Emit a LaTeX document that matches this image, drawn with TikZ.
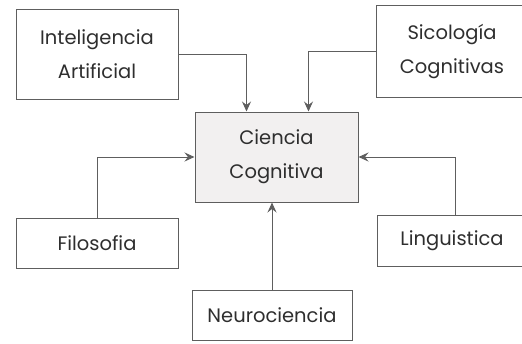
\documentclass[tikz,border=0pt]{standalone}
\usepackage{fontspec}
\setmainfont{Poppins}
\usetikzlibrary{arrows.meta}
\definecolor{linegray}{HTML}{5E5E5E}
\definecolor{textgray}{HTML}{2E2E2E}
\definecolor{boxfill}{HTML}{F2F0F0}
\tikzset{
  field/.style={draw=linegray,line width=1pt,text=textgray,align=center,
    inner sep=0pt,font=\fontsize{19.5}{34}\selectfont},
  cutfield/.style={field,draw=none},
  edge/.style={draw=linegray,line width=1pt},
  feed/.style={edge,-{Stealth[length=10pt,width=9pt,inset=3.5pt]}}
}
\begin{document}
\begin{tikzpicture}[x=1pt,y=-1pt]
    \useasboundingbox (0,0) rectangle (522,343);
    %% the fields around
    \node[field,minimum width=162pt,minimum height=90pt] (ia) at (97,54) {Inteligencia\\Artificial};
    \node[cutfield,minimum width=150pt,minimum height=91pt] (sc) at (452,51.5) {Sicología\\Cognitivas};
    \node[field,minimum width=162pt,minimum height=50pt] (fi) at (97,243) {Filosofia};
    \node[cutfield,minimum width=148pt,minimum height=50pt] (li) at (452,241) {Linguistica};
    \node[field,minimum width=160pt,minimum height=50pt] (ne) at (272,315) {Neurociencia};
    %% boxes running off the page
    \draw[edge] (sc.north east) -- (sc.north west) -- (sc.south west) -- (sc.south east);
    \draw[edge] (li.north east) -- (li.north west) -- (li.south west) -- (li.south east);
    %% the centre
    \node[field,fill=boxfill,minimum width=163pt,minimum height=90pt] (cc) at (276.5,157) {Ciencia\\Cognitiva};
    %% arrows
    \draw[feed] (ia.east) -| ([xshift=-30pt]cc.north);
    \draw[feed] (sc.west) -| ([xshift=32pt]cc.north);
    \draw[feed] (fi.north) |- (cc.west);
    \draw[feed] ([xshift=3pt]li.north) |- (cc.east);
    \draw[feed] (ne.north) -- (ne.north |- cc.south);
\end{tikzpicture}
\end{document}
